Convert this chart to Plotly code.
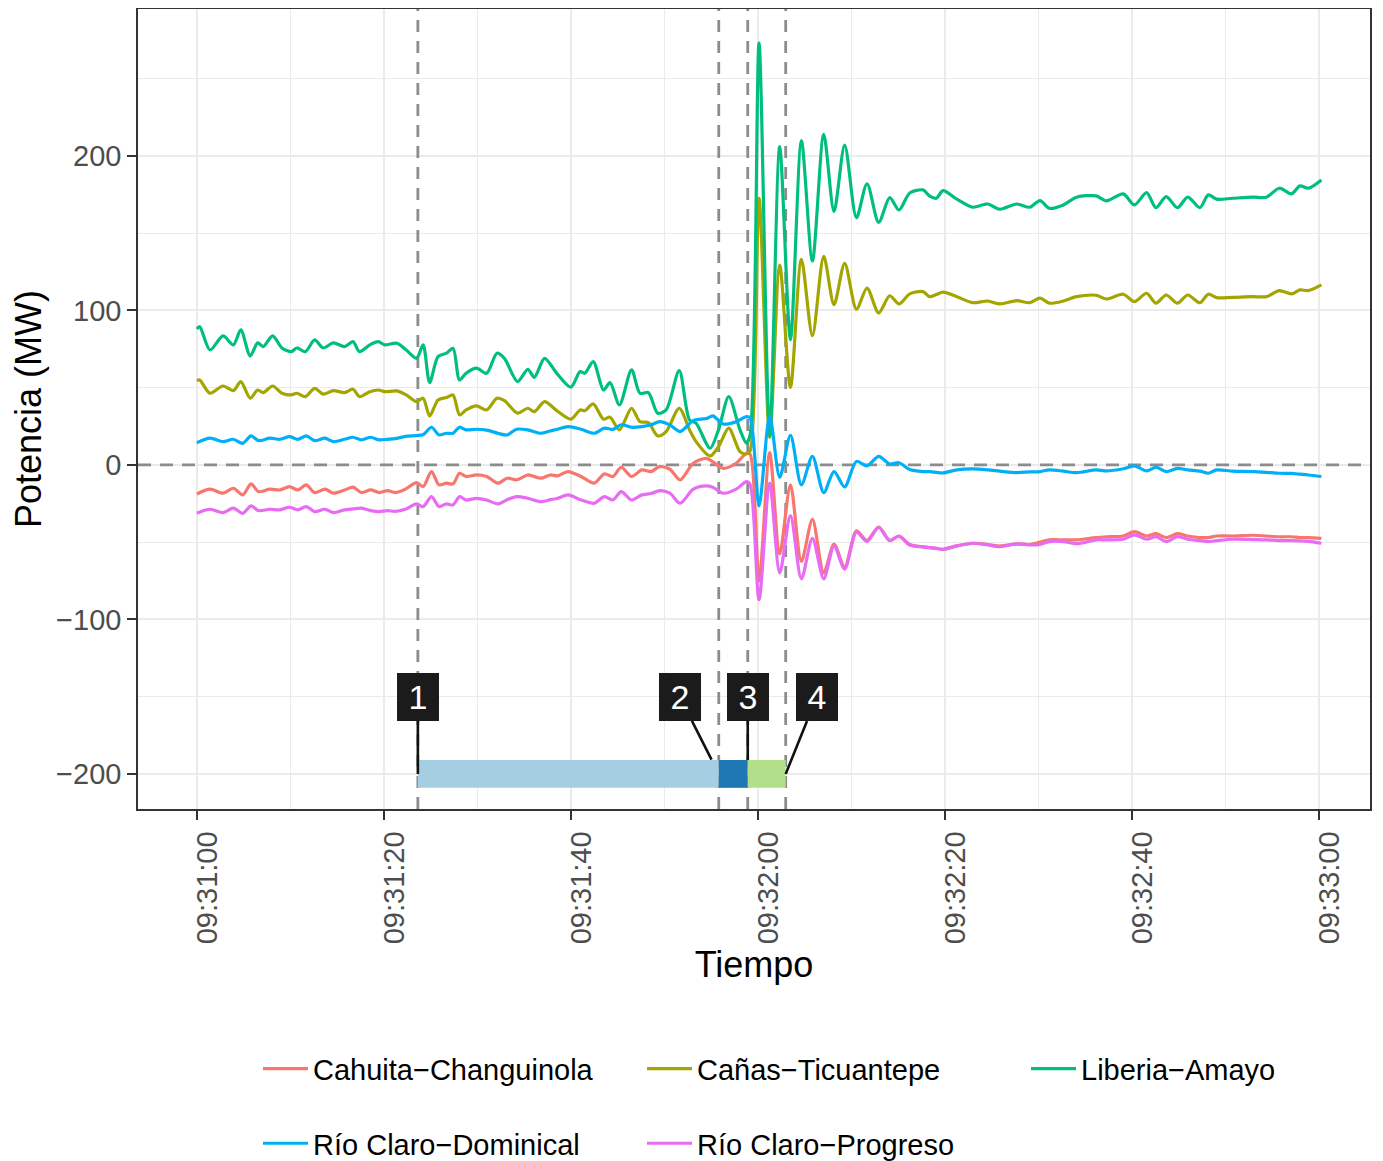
import plotly.graph_objects as go
import pandas as pd

# ---------------- data (seconds after 09:31:00) ----------------
t_sup = [0, 0.3, 1.4, 2.8, 3.9, 4.7, 5.7, 6.5, 7.1, 8.1, 9.1, 10.1, 10.7, 11.6, 12.6, 13.5, 14.6,
         15.8, 16.7, 17.4, 18.5, 19.4, 20.1, 21.4, 22.4, 23.5, 24.2, 24.9, 25.8, 26.7, 27.4, 28.1,
         28.8, 29.9, 31.0, 32.1, 32.9, 34.3, 35.4, 36.1, 37.2, 38.5, 40.0, 41.0, 41.5, 42.4, 43.5,
         44.2, 45.2, 46.5, 47.4, 48.3, 49.3, 50.2, 51.6, 52.7, 53.4, 54.9, 55.8, 56.9, 58.1, 58.8,
         59.2, 60.14, 61.28, 62.35, 63.5, 64.67, 65.85, 67.06, 68.16, 69.3, 70.56, 71.69, 72.94,
         74.12, 75.11, 76.26, 77.68, 78.4, 79.11, 79.82, 81.3, 83.0, 84.6, 85.9, 87.7, 89.1, 90.2,
         91.2, 92.7, 94.1, 96.2, 97.3, 99.1, 100.3, 101.6, 102.6, 103.7, 104.9, 106.0, 107.3,
         108.2, 109.1, 110.8, 113.0, 114.4, 115.8, 117.1, 118.0, 118.9, 120.3]

liberia_amayo = [88, 89.5, 74.4, 83.5, 77.7, 87.4, 70.6, 79, 76.6, 83.5, 75.7, 73.3, 75.7, 73.3,
                 80.9, 75.7, 79, 76.6, 79.8, 73.3, 77.7, 79.8, 77.7, 78.8, 74.4, 69, 77.7, 53.3,
                 70.1, 72.3, 75.5, 55, 59.3, 62.6, 59.3, 72.3, 69, 53.9, 61.9, 56.7, 69, 59.3, 50.3,
                 60.4, 59.3, 66.9, 48.5, 53.3, 38.8, 61.5, 46.4, 46.8, 33.5, 35.6, 61, 29.1, 27,
                 10.8, 22.7, 44.2, 22.7, 14,
                 20, 273, 19, 206, 81, 210, 132, 214, 164, 207, 160, 182, 157, 173, 165, 176, 178,
                 174, 172.6, 177.5, 172, 166.8, 168.9, 165.5, 168.9, 166.8, 171.1, 166.1, 168.3,
                 173.3, 174.1, 170.9, 175.4, 168.3, 176.2, 166.5, 173.7, 166.5, 173.3, 166.5, 174.8,
                 172, 172.6, 173.3, 173.3, 179.1, 175.4, 180.6, 179.1, 184.5]

canas_ticuantepe = [54.6, 55, 46.4, 51.1, 48.1, 53.9, 43.2, 48.5, 46.8, 51.1, 46.4, 45.3, 46.4,
                    44.2, 49.6, 45.8, 48.1, 46.8, 49, 44.2, 47.4, 48.5, 47.4, 47.9, 45.3, 41, 43.2,
                    31.7, 42.1, 43.6, 45.3, 32.4, 35.6, 38.2, 35.6, 43.2, 41.6, 33.5, 36.7, 34.5, 41,
                    35.1, 29.6, 35.6, 35.1, 39.5, 29.6, 30.9, 22.7, 36.7, 28, 27.4, 18.8, 21.6, 36.7,
                    22.7, 15.1, 5.8, 11.8, 23.8, 8.6, 7.1,
                    9.3, 172.6, 17.9, 129.3, 50.1, 133, 83.6, 135, 103.8, 130.5, 100.8, 114.5, 98.4,
                    109.5, 104.2, 110.7, 112.2, 108.9, 110.3, 111.8, 108.9, 105, 106.1, 104.2, 106.3,
                    105, 107.9, 104.7, 106.1, 108.9, 109.8, 107.4, 110.5, 105.7, 111.1, 104.7, 110,
                    104.7, 110, 105, 110.5, 108.3, 108.5, 108.9, 108.9, 112.8, 110.7, 113.3, 112.8,
                    116.5]

t_inf = [0, 1.4, 2.8, 3.9, 4.9, 5.8, 6.6, 7.8, 8.9, 9.9, 10.8, 11.7, 12.6, 13.7, 14.6, 15.8, 16.7,
         17.6, 18.6, 19.5, 20.4, 21.2, 22.3, 23.5, 24.2, 25.1, 25.9, 26.7, 27.4, 28.1, 28.8, 29.9,
         31.0, 32.2, 33.2, 34.2, 35.4, 36.8, 37.8, 38.6, 39.7, 41.1, 42.5, 43.6, 44.5, 45.4, 46.5,
         47.6, 48.6, 49.5, 50.6, 51.7, 53.1, 54.5, 55.2, 56.3, 57.7, 58.8,
         59.2, 60.14, 61.28, 62.35, 63.5, 64.67, 65.85, 67.06, 68.16, 69.3, 70.56, 71.69, 72.94,
         74.12, 75.11, 76.26, 77.68, 78.4, 79.11, 79.82, 81.3, 83.0, 84.6, 85.9, 87.7, 89.1, 90.2,
         91.2, 92.7, 94.1, 96.2, 97.3, 99.1, 100.3, 101.6, 102.6, 103.7, 104.9, 106.0, 107.3,
         108.2, 109.1, 110.8, 113.0, 114.4, 115.8, 117.1, 118.0, 118.9, 120.3]

rio_claro_dominical = [14.4, 17.3, 15.1, 16.6, 14, 18.8, 15.7, 17.3, 16.6, 18.3, 16.6, 18.8, 15.7,
                       17.3, 15.1, 16.6, 17.9, 16.2, 17.9, 16.2, 16.6, 17.0, 18.5, 19.0, 19.5, 24.4,
                       19.4, 20.5, 20.5, 24.4, 22.7, 23.1, 22.5, 20.5, 19.4, 23.1, 22.7, 20.5, 22,
                       23.1, 24.8, 23.1, 20.5, 23.8, 23, 26, 24.4, 24.8, 26, 28, 25.9, 21.6, 28.7,
                       30, 31.7, 26.5, 28, 31.3,
                       30.4, -26.5, 31.6, -8, 19.2, -12.9, 5.6, -17.9, -4.3, -14.2, 2.3, -0.6, 5.6,
                       0.6, 1.4, -3, -4.3, -4.3, -4.8, -5.2, -3.2, -2.6, -3.2, -4, -5, -4.5, -4.3,
                       -3.2, -4, -5, -3.2, -3.9, -2.5, -0.6, -3.9, -1.5, -4.3, -2.2, -3.2, -4, -5.4,
                       -3.2, -4, -4.3, -4.8, -5.4, -5.5, -6, -6.5, -7.5]

cahuita_changuinola = [-18.8, -15.7, -18.3, -15.1, -19.4, -12.3, -17.3, -15.7, -16.2, -14, -16.2,
                       -12.9, -17.9, -15.7, -18.3, -16.2, -14.4, -17.9, -16.2, -17.9, -16.6, -17.9,
                       -15.7, -11.4, -14, -4.3, -12.9, -11.8, -12.3, -5.4, -7.5, -6.5, -7.5, -11.8,
                       -8.6, -9.7, -6.5, -8.6, -6.5, -7.1, -4.3, -7.5, -11.8, -5.8, -7.5, -1.5,
                       -7.5, -3.2, -4.3, -1.1, -2.8, -9.7, 1.1, 4.3, 2, -2.2, 1.1, 7.6,
                       6.8, -75, 8, -57.5, -12.9, -62.5, -35.3, -69.9, -51.3, -66.2, -42.7, -48.9,
                       -40.2, -48.9, -46, -51.5, -53, -53.5, -54, -54.6, -52.4, -50.7, -51.5, -52.5,
                       -51.1, -51.5, -50, -48.5, -48.5, -48.5, -47, -46.5, -46, -43.2, -46, -44.5,
                       -47, -44.5, -46, -47, -47, -46, -46, -45.5, -46, -46.5, -46.5, -47, -47,
                       -47.5]

rio_claro_progreso = [-31.3, -28.7, -30.9, -28, -31.3, -26.5, -29.6, -28.7, -29.1, -27.4, -29.1,
                      -27, -30.2, -28.7, -30.9, -29.1, -28.5, -28, -29.6, -30.2, -29.6, -30, -28.7,
                      -25.2, -27, -20.5, -27, -25.2, -25.9, -20.5, -22.7, -21.6, -22.7, -25.2,
                      -22.5, -20.5, -21.6, -23.8, -22.5, -21.6, -19.4, -22.7, -24.8, -20.5, -22.7,
                      -17.3, -22.7, -19.4, -18.5, -16.6, -18.3, -24.8, -15.7, -13.6, -14.5, -18.3,
                      -15.7, -10.8,
                      -12.9, -87.2, -11.8, -69.9, -32.8, -73.7, -47.6, -73.7, -52.6, -67.4, -43.5,
                      -49.5, -40.5, -49, -46, -51.8, -53, -53.5, -54, -54.6, -52.4, -50.7, -51.8,
                      -52.9, -51.1, -51.8, -51.5, -49.6, -49.6, -51, -48.5, -48.5, -48.1, -45.3,
                      -48.1, -46.4, -49.6, -46.4, -48.1, -49, -49.6, -49, -48.1, -48.3, -48.5, -49,
                      -49, -49.2, -49.5, -50.7]

series_names = ["Cahuita\u2212Changuinola", "Cañas\u2212Ticuantepe", "Liberia\u2212Amayo",
                "Río Claro\u2212Dominical", "Río Claro\u2212Progreso"]
series_colors = ["#F8766D", "#A3A500", "#00BF7D", "#00B0F6", "#E76BF3"]

event_times = [23.64, 55.83, 58.93, 62.99]
event_labels = ["1", "2", "3", "4"]
stage_colors = ["#A6CEE3", "#1F78B4", "#B2DF8A"]

x_tick_secs = [0, 20, 40, 60, 80, 100, 120]
x_tick_text = ["09:31:00", "09:31:20", "09:31:40", "09:32:00", "09:32:20", "09:32:40", "09:33:00"]
x_minor_secs = [10, 30, 50, 70, 90, 110]
y_tick_vals = [-200, -100, 0, 100, 200]
y_tick_text = ["\u2212200", "\u2212100", "0", "100", "200"]
y_minor_vals = [-150, -50, 50, 150, 250]

X_RANGE = [-6.3, 125.5]
Y_RANGE = [-222.7, 295.1]

# ---------------- helpers ----------------
base = pd.Timestamp("2023-01-01 09:31:00")


def to_dt(s):
    return (base + pd.Timedelta(seconds=s)).strftime("%Y-%m-%d %H:%M:%S.%f")[:-3]


FONT = "Liberation Sans, Arial, Helvetica, sans-serif"

fig = go.Figure()

series_data = [
    (t_inf, cahuita_changuinola),
    (t_sup, canas_ticuantepe),
    (t_sup, liberia_amayo),
    (t_inf, rio_claro_dominical),
    (t_inf, rio_claro_progreso),
]
for i, ((tt, vv), name, col) in enumerate(zip(series_data, series_names, series_colors)):
    fig.add_trace(go.Scatter(
        x=[to_dt(s) for s in tt], y=vv, mode="lines", name=name,
        line=dict(color=col, width=3.2, shape="spline", smoothing=0.8),
        legend="legend" if i < 3 else "legend2",
        hoverinfo="skip",
    ))

DASH_COL = "#8c8c8c"
shapes = []
# horizontal dashed zero line
shapes.append(dict(type="line", xref="x", x0=to_dt(X_RANGE[0]), x1=to_dt(X_RANGE[1]),
                   yref="y", y0=0, y1=0,
                   line=dict(color=DASH_COL, width=2.8, dash="13px,9px"), layer="between"))
# vertical dashed event lines
for et in event_times:
    shapes.append(dict(type="line", xref="x", x0=to_dt(et), x1=to_dt(et),
                       yref="y", y0=Y_RANGE[0], y1=Y_RANGE[1],
                       line=dict(color=DASH_COL, width=2.8, dash="12px,9px"), layer="between"))
# stage bar
for k, col in enumerate(stage_colors):
    shapes.append(dict(type="rect", xref="x", x0=to_dt(event_times[k]), x1=to_dt(event_times[k + 1]),
                       yref="y", y0=-209, y1=-191, fillcolor=col, line=dict(width=0), layer="between"))

annotations = []
offsets = [(0, -77, 0), (-39, -77, 16), (0, -77, 14), (31, -77, 0)]
for et, lab, (axo, ayo, so) in zip(event_times, event_labels, offsets):
    annotations.append(dict(
        x=to_dt(et), y=-200, xref="x", yref="y", text=lab, showarrow=True,
        ax=axo, ay=ayo, arrowhead=0, arrowwidth=2.6, arrowcolor="#111111", standoff=so,
        bgcolor="#1b1b1b", font=dict(family=FONT, size=34, color="white"),
        width=40, height=46, borderpad=1, borderwidth=0, align="center", valign="middle",
    ))

legend_common = dict(orientation="h", xanchor="left", yanchor="middle",
                     entrywidth=324, entrywidthmode="pixels",
                     font=dict(family=FONT, size=29, color="black"),
                     bgcolor="rgba(0,0,0,0)", traceorder="normal", itemwidth=45)

# the page body adds an 8px offset, so the figure is sized/margined to compensate
fig.update_layout(
    width=1375, height=1153,
    margin=dict(l=130, r=13, t=1, b=352, autoexpand=False),
    paper_bgcolor="white", plot_bgcolor="white",
    font=dict(family=FONT, size=29, color="black"),
    shapes=shapes, annotations=annotations,
    showlegend=True,
    legend=dict(x=0.0974, y=-0.3246, **legend_common),
    legend2=dict(x=0.0974, y=-0.418, **legend_common),
)

fig.update_xaxes(
    type="date", automargin=False,
    range=[to_dt(X_RANGE[0]), to_dt(X_RANGE[1])],
    tickvals=[to_dt(s) for s in x_tick_secs], ticktext=x_tick_text,
    tickangle=-90, tickfont=dict(family=FONT, size=29, color="#4d4d4d"),
    ticks="outside", ticklen=9, tickwidth=2.2, tickcolor="#333333",
    showgrid=True, gridcolor="#ebebeb", gridwidth=2.4,
    minor=dict(tickvals=[to_dt(s) for s in x_minor_secs], showgrid=True,
               gridcolor="#ebebeb", gridwidth=1.2, ticks=""),
    showline=True, linecolor="#333333", linewidth=1.6, mirror=True,
    zeroline=False,
    title=dict(text="Tiempo", font=dict(family=FONT, size=36, color="black"), standoff=8),
    ticklabelshift=11,
)
fig.update_yaxes(
    automargin=False,
    range=Y_RANGE,
    tickvals=y_tick_vals, ticktext=y_tick_text,
    tickfont=dict(family=FONT, size=29, color="#4d4d4d"),
    ticks="outside", ticklen=9, tickwidth=2.2, tickcolor="#333333",
    showgrid=True, gridcolor="#ebebeb", gridwidth=2.4,
    minor=dict(tickvals=y_minor_vals, showgrid=True, gridcolor="#ebebeb",
               gridwidth=1.2, ticks=""),
    showline=True, linecolor="#333333", linewidth=1.6, mirror=True,
    zeroline=False,
    title=dict(text="Potencia (MW)", font=dict(family=FONT, size=36, color="black"), standoff=6),
)

fig.write_html("out.html")
